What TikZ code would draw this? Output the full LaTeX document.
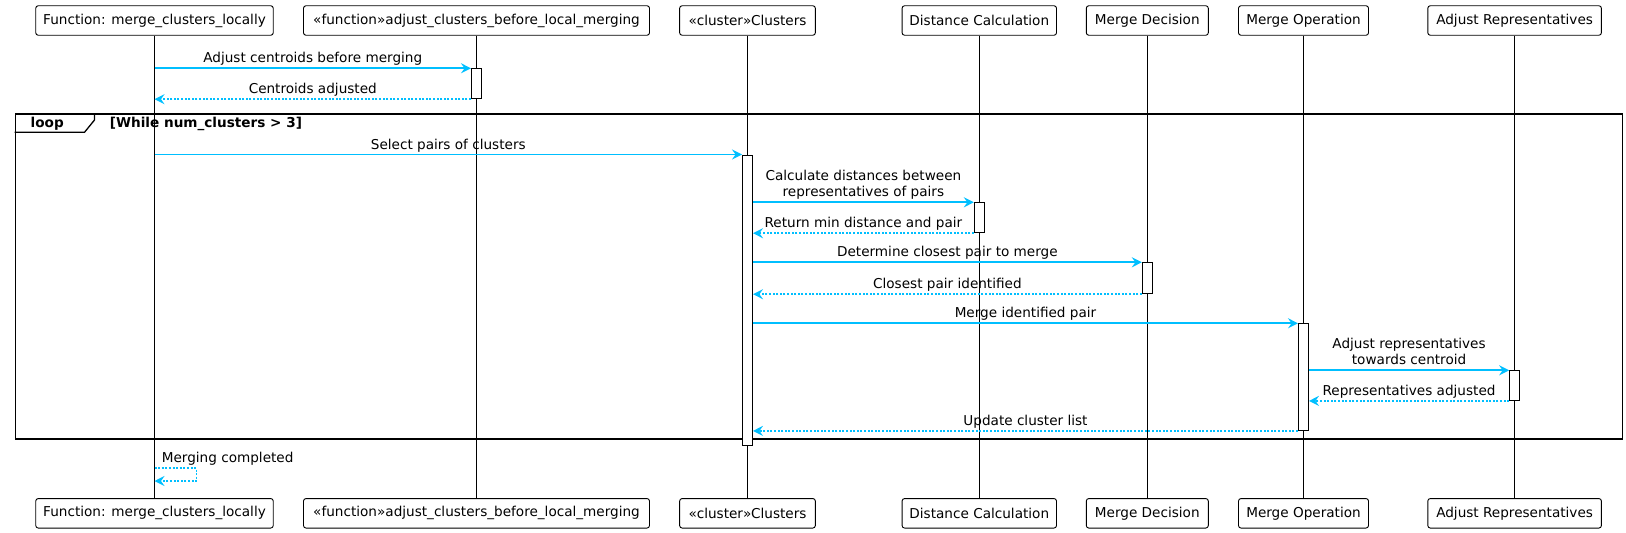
\documentclass[tikz,border=0pt]{standalone}
\usepackage{fontspec}
\setmainfont{DejaVu Sans}
\usetikzlibrary{arrows.meta,calc}
\definecolor{msgblue}{HTML}{00BFFF}
\tikzset{
 part/.style={draw=black, fill=white, rounded corners=2.5pt, line width=0.9pt, minimum height=29.5pt, inner sep=0pt},
 life/.style={draw=black, line width=0.9pt},
 actbox/.style={draw=black, fill=white, line width=0.9pt, minimum width=10pt, inner sep=0pt, anchor=north},
 call/.style={draw=msgblue, line width=1.7pt, -{Stealth[length=10pt,width=10pt,inset=3.5pt]}},
 reply/.style={call, dash pattern=on 2pt off 1.6pt},
 lbl/.style={inner sep=0pt, anchor=base, align=center, midway, yshift=5.5pt},
 frm/.style={draw=black, line width=1.3pt},
}
\begin{document}
\begin{tikzpicture}[x=1pt,y=-1pt, font=\fontsize{13.6}{16}\selectfont]
\useasboundingbox (0,0) rectangle (1626,533);
% participants (top)
\node[part, minimum width=237.5pt] (p1t) at (154.5,20.5) {Function: merge\_clusters\_locally};
\node[part, minimum width=346pt] (p2t) at (476.5,20.5) {«function»adjust\_clusters\_before\_local\_merging};
\node[part, minimum width=135.7pt] (p3t) at (747.5,20.5) {«cluster»Clusters};
\node[part, minimum width=154.4pt] (p4t) at (979.3,20.5) {Distance Calculation};
\node[part, minimum width=122pt] (p5t) at (1147.3,20.5) {Merge Decision};
\node[part, minimum width=130pt] (p6t) at (1303.5,20.5) {Merge Operation};
\node[part, minimum width=173.6pt] (p7t) at (1514.6,20.5) {Adjust Representatives};
% participants (bottom)
\node[part, minimum width=237.5pt] (p1b) at (154.5,513.3) {Function: merge\_clusters\_locally};
\node[part, minimum width=346pt] (p2b) at (476.5,513.3) {«function»adjust\_clusters\_before\_local\_merging};
\node[part, minimum width=135.7pt] (p3b) at (747.5,513.3) {«cluster»Clusters};
\node[part, minimum width=154.4pt] (p4b) at (979.3,513.3) {Distance Calculation};
\node[part, minimum width=122pt] (p5b) at (1147.3,513.3) {Merge Decision};
\node[part, minimum width=130pt] (p6b) at (1303.5,513.3) {Merge Operation};
\node[part, minimum width=173.6pt] (p7b) at (1514.6,513.3) {Adjust Representatives};
% lifelines
\foreach \i in {1,...,7} { \draw[life] (p\i t.south) -- (p\i b.north); }
% loop frame
\node[frm, minimum width=1607pt, minimum height=325pt, anchor=north west, inner sep=0pt] (loopfr) at (14.5,113.3) {};
\draw[frm] (loopfr.north west) ++(0,19) -- ++(70,0) -- ++(10,-12.3) -- ++(0,-6.7);
\node[inner sep=0pt, anchor=base, font=\fontsize{13.6}{16}\selectfont\bfseries] (looplbl) at ($(loopfr.north west)+(32.7,14.2)$) {loop};
\node[inner sep=0pt, anchor=base west, font=\fontsize{13.6}{16}\selectfont\bfseries] (guard) at ($(loopfr.north west)+(95.2,14.2)$) {[While num\_clusters > 3]};
% activations
\node[actbox, minimum height=30pt] (a2) at (476.5,68.3) {};
\node[actbox, minimum height=290.5pt] (a3) at (747.5,154.5) {};
\node[actbox, minimum height=30pt] (a4) at (979.3,202.3) {};
\node[actbox, minimum height=31pt] (a5) at (1147.3,262.3) {};
\node[actbox, minimum height=106.7pt] (a6) at (1303.5,323.3) {};
\node[actbox, minimum height=29.7pt] (a7) at (1514.6,370.3) {};
% messages
\draw[call] (p1t.south |- a2.north) -- (a2.north west) node[lbl] {Adjust centroids before merging};
\draw[reply] (a2.south west) -- (p1t.south |- a2.south) node[lbl] {Centroids adjusted};
\draw[call] (p1t.south |- a3.north) -- (a3.north west) node[lbl] {Select pairs of clusters};
\draw[call] (a3.east |- a4.north) -- (a4.north west) node[lbl] {Calculate distances between\\representatives of pairs};
\draw[reply] (a4.south west) -- (a3.east |- a4.south) node[lbl] {Return min distance and pair};
\draw[call] (a3.east |- a5.north) -- (a5.north west) node[lbl] {Determine closest pair to merge};
\draw[reply] (a5.south west) -- (a3.east |- a5.south) node[lbl] {Closest pair identified};
\draw[call] (a3.east |- a6.north) -- (a6.north west) node[lbl] {Merge identified pair};
\draw[call] (a6.east |- a7.north) -- (a7.north west) node[lbl] {Adjust representatives\\towards centroid};
\draw[reply] (a7.south west) -- (a6.east |- a7.south) node[lbl] {Representatives adjusted};
\draw[reply] (a6.south west) -- (a3.east |- a6.south) node[lbl] {Update cluster list};
% self message
\coordinate (s1) at (196.5,468.3);
\coordinate (s2) at (196.5,481);
\draw[reply] (p1t.south |- s1) node[inner sep=0pt, anchor=base west, xshift=6.5pt, yshift=6pt] {Merging completed} -- (s1) -- (s2) -- (p1t.south |- s2);
\end{tikzpicture}
\end{document}
